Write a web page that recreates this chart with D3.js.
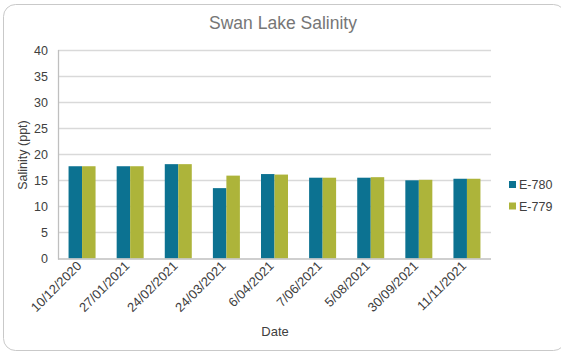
<!DOCTYPE html>
<html>
<head>
<meta charset="utf-8">
<script src="https://cdn.jsdelivr.net/npm/d3@7"></script>
<style>
  html, body { margin: 0; padding: 0; background: #fff; }
  svg { display: block; font-family: "Liberation Sans", Arial, sans-serif; }
</style>
</head>
<body>
<svg id="chart" width="561" height="352"></svg>
<script>
// Sampling dates and salinity readings (ppt) for the two monitoring sites
const dates = ["10/12/2020", "27/01/2021", "24/02/2021", "24/03/2021", "6/04/2021",
               "7/06/2021", "5/08/2021", "30/09/2021", "11/11/2021"];
const seriesNames = ["E-780", "E-779"];
const e780 = [17.7, 17.7, 18.1, 13.5, 16.2, 15.5, 15.5, 15.0, 15.3];
const e779 = [17.7, 17.7, 18.1, 15.9, 16.1, 15.5, 15.6, 15.1, 15.3];
const yTicks = [0, 5, 10, 15, 20, 25, 30, 35, 40];
const colors = ["#0c7291", "#adb43a"];

const svg = d3.select("#chart");
const margin = { left: 58, right: 491, top: 50, bottom: 258.5 };

// Outer frame
svg.append("rect")
  .attr("x", 3.5).attr("y", 4.5)
  .attr("width", 562).attr("height", 346)
  .attr("rx", 12).attr("ry", 12)
  .attr("fill", "#fff").attr("stroke", "#c9c9c9").attr("stroke-width", 1);

// Title
svg.append("text")
  .attr("x", 283).attr("y", 29)
  .attr("text-anchor", "middle")
  .attr("font-size", 17.5).attr("fill", "#767676")
  .text("Swan Lake Salinity");

const x = d3.scaleBand().domain(dates).range([margin.left, margin.right]).paddingInner(0).paddingOuter(0);
const y = d3.scaleLinear().domain([0, 40]).range([margin.bottom, margin.top]);
const groupWidth = 27;
const xs = d3.scaleBand().domain(seriesNames).range([0, groupWidth]);

// Horizontal gridlines
svg.append("g").selectAll("line").data(yTicks.filter(d => d > 0)).join("line")
  .attr("x1", margin.left).attr("x2", margin.right)
  .attr("y1", d => Math.round(y(d)) + 0.5).attr("y2", d => Math.round(y(d)) + 0.5)
  .attr("stroke", "#d9d9d9").attr("stroke-width", 1.3);

// Y axis labels
const yAxis = d3.axisLeft(y).tickValues(yTicks).tickSize(0).tickPadding(10);
const gy = svg.append("g").attr("transform", `translate(${margin.left},0)`).call(yAxis);
gy.select(".domain").remove();
gy.selectAll("text").attr("font-size", 12.5).attr("fill", "#404040")
  .attr("font-family", "'Liberation Sans', Arial, sans-serif");

// Bars
const rows = dates.map((d, i) => ({ date: d, values: [e780[i], e779[i]] }));
const groups = svg.append("g").selectAll("g").data(rows).join("g")
  .attr("transform", d => `translate(${x(d.date) + x.bandwidth() / 2 - groupWidth / 2},0)`);
groups.selectAll("rect").data(d => d.values.map((v, k) => ({ key: seriesNames[k], v, k }))).join("rect")
  .attr("x", d => xs(d.key))
  .attr("width", xs.bandwidth())
  .attr("y", d => y(d.v))
  .attr("height", d => y(0) - y(d.v))
  .attr("fill", d => colors[d.k]);

// Axis lines
svg.append("line")
  .attr("x1", margin.left + 0.5).attr("x2", margin.left + 0.5)
  .attr("y1", margin.top).attr("y2", margin.bottom + 1)
  .attr("stroke", "#bfbfbf").attr("stroke-width", 1.3);
svg.append("line")
  .attr("x1", margin.left).attr("x2", margin.right)
  .attr("y1", margin.bottom + 0.5).attr("y2", margin.bottom + 0.5)
  .attr("stroke", "#bfbfbf").attr("stroke-width", 1.5);

// X axis labels, rotated
const xAxis = d3.axisBottom(x).tickSize(0).tickPadding(0);
const gx = svg.append("g").attr("transform", `translate(0,${margin.bottom})`).call(xAxis);
gx.select(".domain").remove();
gx.selectAll("text")
  .attr("font-size", 13).attr("fill", "#404040")
  .attr("font-family", "'Liberation Sans', Arial, sans-serif")
  .attr("text-anchor", "end")
  .attr("dy", "0.35em")
  .attr("transform", "translate(-3,5) rotate(-45)");

// Axis titles
svg.append("text")
  .attr("transform", "translate(27,155) rotate(-90)")
  .attr("text-anchor", "middle").attr("font-size", 12.5).attr("fill", "#404040")
  .text("Salinity (ppt)");
svg.append("text")
  .attr("x", 275).attr("y", 336)
  .attr("text-anchor", "middle").attr("font-size", 13).attr("fill", "#404040")
  .text("Date");

// Legend
const legend = svg.append("g").selectAll("g").data(seriesNames).join("g")
  .attr("transform", (d, i) => `translate(509,${185 + i * 21.5})`);
legend.append("rect").attr("x", 0).attr("y", -4).attr("width", 7).attr("height", 7)
  .attr("fill", (d, i) => colors[i]);
legend.append("text").attr("x", 10).attr("y", 0).attr("dy", "0.35em")
  .attr("font-size", 12.5).attr("fill", "#404040").text(d => d);
</script>
</body>
</html>
